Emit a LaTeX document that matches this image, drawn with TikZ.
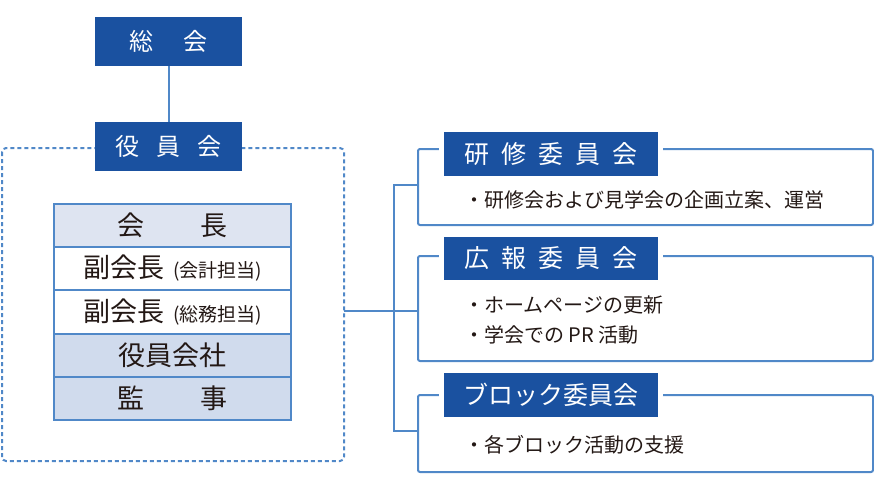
\documentclass[tikz,border=0pt]{standalone}
\usepackage{fontspec}
\setmainfont{Noto Sans CJK JP}
\definecolor{dblue}{HTML}{1A51A0}
\definecolor{lblue}{HTML}{5088C8}
\definecolor{row1}{HTML}{DEE4F1}
\definecolor{row2}{HTML}{D0DBED}
\definecolor{txt}{HTML}{231815}
\tikzset{
  topbox/.style={fill=dblue,text=white,inner sep=0pt,font=\fontsize{24pt}{24pt}\selectfont},
  cell/.style={draw=lblue,line width=2pt,inner sep=0pt,text=txt,font=\fontsize{27pt}{27pt}\selectfont},
  frame/.style={draw=lblue,line width=2pt,rounded corners=2pt},
  conn/.style={draw=lblue,line width=2pt},
  ttl/.style={fill=dblue,text=white,inner sep=0pt,draw=white,line width=5pt,minimum width=219pt,font=\fontsize{25pt}{25pt}\selectfont},
  item/.style={anchor=west,inner sep=0pt,text=txt,font=\fontsize{20pt}{20pt}\selectfont}
}
\newcommand{\sml}[1]{{\fontsize{19pt}{19pt}\selectfont\hspace{9pt}(#1)}}
\begin{document}
\begin{tikzpicture}[x=1pt,y=-1pt]
\useasboundingbox (0,0) rectangle (874,493);
% dashed officers area
\draw[lblue,line width=2pt,dash pattern=on 4pt off 3pt,rounded corners=4pt] (2,148) rectangle (344,461);
% top boxes
\node[topbox,minimum width=147pt,minimum height=49pt] (soukai) at (168.5,41.5) {総\hspace{30pt}会};
\node[topbox,minimum width=147pt,minimum height=49pt] (yakuin) at (168.5,146.5) {役\hspace{17.5pt}員\hspace{17.5pt}会};
\draw[conn] (soukai.south) -- (yakuin.north);
% table
\node[cell,fill=row1,minimum width=237pt,minimum height=43.5pt] (r1) at (172.5,225.5) {会\hspace{57pt}長};
\node[cell,fill=white,minimum width=237pt,minimum height=43pt] (r2) at (172.5,268.5) {副会長\sml{会計担当}};
\node[cell,fill=white,minimum width=237pt,minimum height=44pt] (r3) at (172.5,312) {副会長\sml{総務担当}};
\node[cell,fill=row2,minimum width=237pt,minimum height=43pt] (r4) at (172.5,355.5) {役員会社};
\node[cell,fill=row2,minimum width=237pt,minimum height=43.5pt] (r5) at (172.5,398.5) {監\hspace{57pt}事};
% right frames
\draw[frame] (418,149) rectangle (873,225);
\draw[frame] (418,256) rectangle (873,361);
\draw[frame] (418,395) rectangle (873,472);
\coordinate (f1) at (418,185);
\coordinate (f2) at (418,311);
\coordinate (f3) at (418,431);
\coordinate (jn) at (394,311);
\coordinate (dr) at (344,311);
\draw[conn] (dr) -- (jn);
\draw[conn] (f1) -| (jn);
\draw[conn] (f3) -| (jn);
\draw[conn] (jn) -- (f2);
% titles
\node[ttl,minimum height=49pt] (t1) at (551,154) {研\hspace{12pt}修\hspace{12pt}委\hspace{12pt}員\hspace{12pt}会};
\node[ttl,minimum height=48pt] (t2) at (551,258.5) {広\hspace{12pt}報\hspace{12pt}委\hspace{12pt}員\hspace{12pt}会};
\node[ttl,minimum height=49pt] (t3) at (551,395) {ブロック委員会};
% items
\node[item] (i1) at (464,200) {・研修会および見学会の企画立案、運営};
\node[item] (i2) at (464,305) {・ホームページの更新};
\node[item] (i3) at (464,335) {・学会での PR 活動};
\node[item] (i4) at (464,445) {・各ブロック活動の支援};
\end{tikzpicture}
\end{document}
